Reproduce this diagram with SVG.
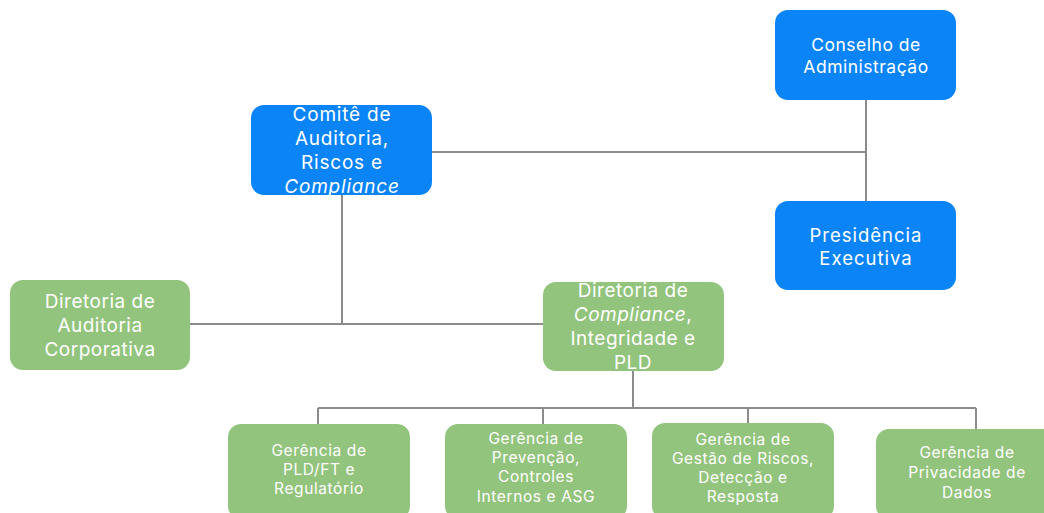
<svg xmlns="http://www.w3.org/2000/svg" width="1044" height="513" viewBox="0 0 1044 513">
<style>
.blue{fill:#0b84f8}
.green{fill:#93c47d}
.t{font-family:Inter,"Liberation Sans",sans-serif;fill:#ffffff;text-anchor:middle}
.tb{font-size:17.5px;letter-spacing:0.5px}
.tp{font-size:18.5px;letter-spacing:1px}
.tc{font-size:19px;letter-spacing:0.8px}
.tg{font-size:19px;letter-spacing:0.5px}
.ts{font-size:15.5px;letter-spacing:0.6px}
.i{font-style:italic}
.c{stroke:#8c8c8c;stroke-width:2;fill:none}
</style>
<rect width="1044" height="513" fill="#ffffff"/>
<g id="connectors">
<path class="c" d="M866 100V201"/>
<path class="c" d="M432 152H866"/>
<path class="c" d="M342 195V324"/>
<path class="c" d="M190 324H543"/>
<path class="c" d="M633 371V408"/>
<path class="c" d="M318 408H976"/>
<path class="c" d="M318 408V424"/>
<path class="c" d="M543 408V424"/>
<path class="c" d="M748 408V423"/>
<path class="c" d="M976 408V429"/>
</g>
<g id="conselho">
<rect class="blue" x="775" y="10" width="181" height="90" rx="13"/>
<text class="t tb" x="866" y="51">Conselho de</text>
<text class="t tb" x="866" y="73">Administração</text>
</g>
<g id="presidencia">
<rect class="blue" x="775" y="201" width="181" height="89" rx="13"/>
<text class="t tp" x="866" y="242">Presidência</text>
<text class="t tp" x="866" y="265">Executiva</text>
</g>
<g id="comite">
<rect class="blue" x="251" y="105" width="181" height="90" rx="13"/>
<text class="t tc" x="342" y="121">Comitê de</text>
<text class="t tc" x="342" y="145">Auditoria,</text>
<text class="t tc" x="342" y="169">Riscos e</text>
<text class="t tc i" x="342" y="193" letter-spacing="1.5">Compliance</text>
</g>
<g id="dir-auditoria">
<rect class="green" x="10" y="280" width="180" height="90" rx="13"/>
<text class="t tg" x="100" y="308">Diretoria de</text>
<text class="t tg" x="100" y="332">Auditoria</text>
<text class="t tg" x="100" y="356">Corporativa</text>
</g>
<g id="dir-compliance">
<rect class="green" x="543" y="282" width="181" height="89" rx="13"/>
<text class="t tg" x="633" y="297">Diretoria de</text>
<text class="t tg" x="633" y="321"><tspan class="i">Compliance</tspan>,</text>
<text class="t tg" x="633" y="345">Integridade e</text>
<text class="t tg" x="633" y="369">PLD</text>
</g>
<g id="ger-pld">
<rect class="green" x="228" y="424" width="182" height="95" rx="13"/>
<text class="t ts" x="319" y="456">Gerência de</text>
<text class="t ts" x="319" y="475">PLD/FT e</text>
<text class="t ts" x="319" y="494">Regulatório</text>
</g>
<g id="ger-prevencao">
<rect class="green" x="445" y="424" width="182" height="95" rx="13"/>
<text class="t ts" x="536" y="444">Gerência de</text>
<text class="t ts" x="536" y="463">Prevenção,</text>
<text class="t ts" x="536" y="482">Controles</text>
<text class="t ts" x="536" y="502">Internos e ASG</text>
</g>
<g id="ger-riscos">
<rect class="green" x="652" y="423" width="182" height="96" rx="13"/>
<text class="t ts" x="743" y="445">Gerência de</text>
<text class="t ts" x="743" y="464">Gestão de Riscos,</text>
<text class="t ts" x="743" y="483">Detecção e</text>
<text class="t ts" x="743" y="502">Resposta</text>
</g>
<g id="ger-privacidade">
<rect class="green" x="876" y="429" width="182" height="90" rx="13"/>
<text class="t ts" x="967" y="458">Gerência de</text>
<text class="t ts" x="967" y="478">Privacidade de</text>
<text class="t ts" x="967" y="498">Dados</text>
</g>
</svg>
